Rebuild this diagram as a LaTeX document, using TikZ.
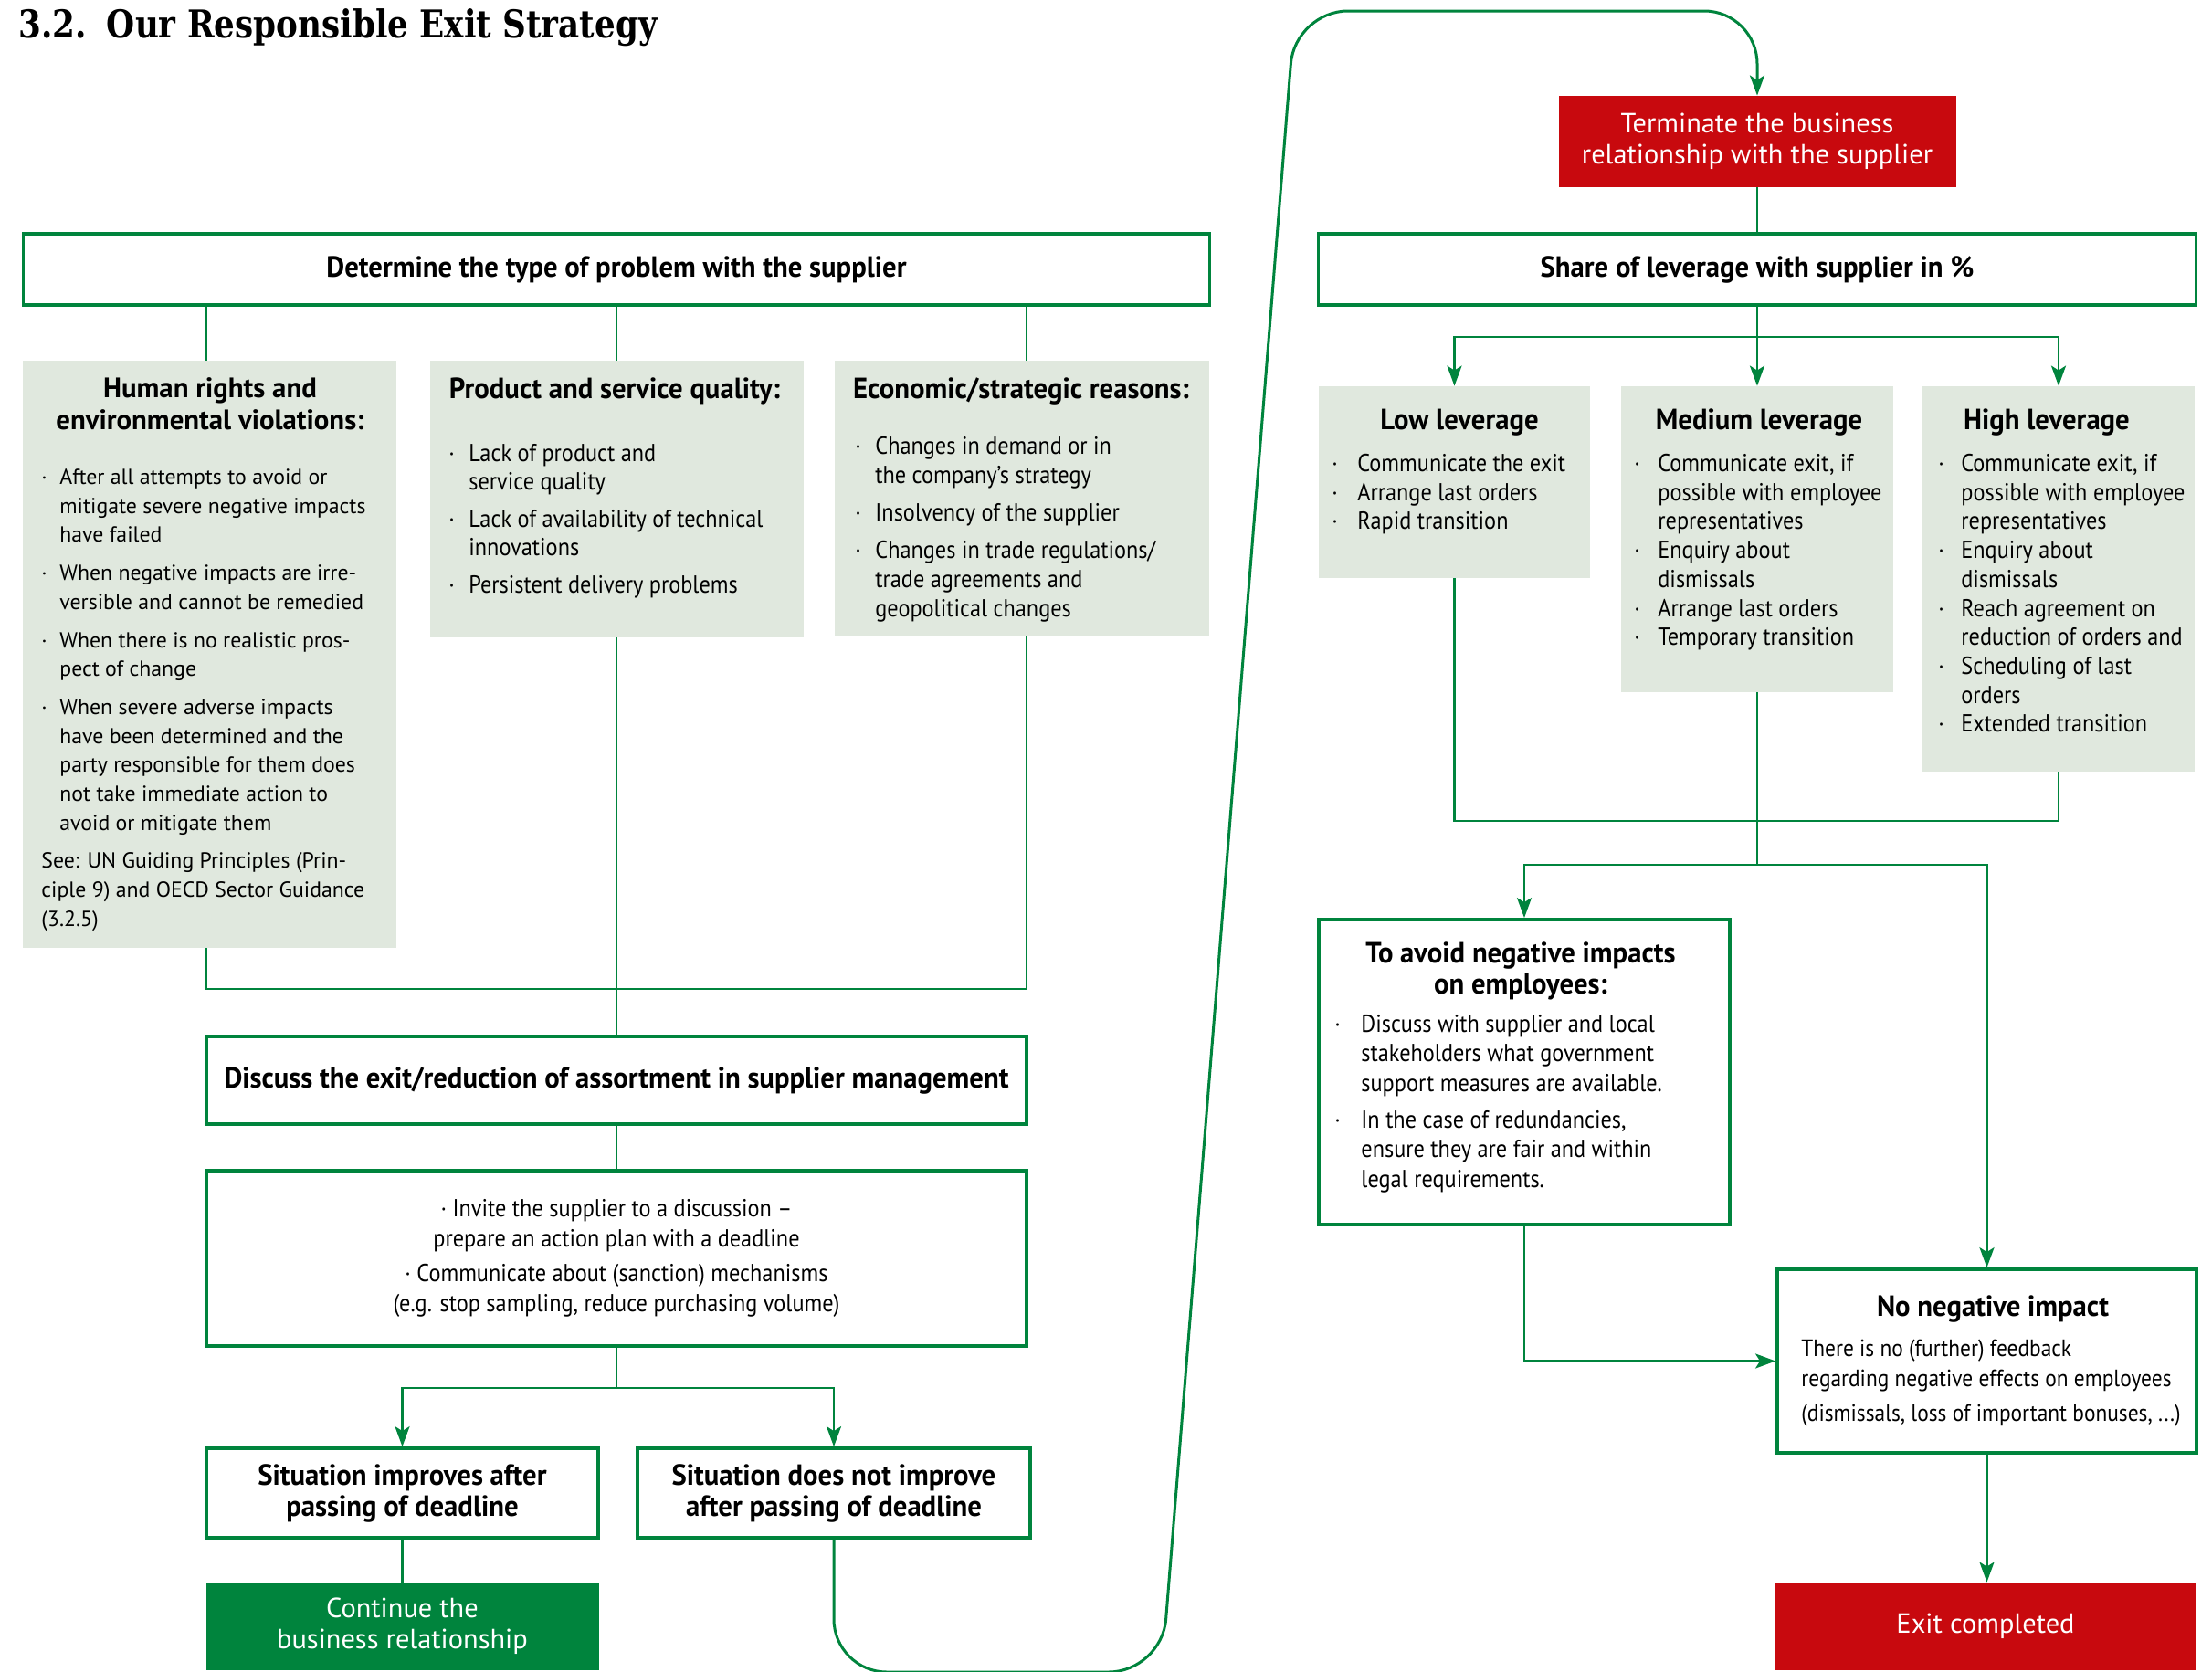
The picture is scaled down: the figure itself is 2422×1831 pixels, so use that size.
\documentclass[tikz,border=0pt]{standalone}
\usepackage{fontspec}
\setmainfont{PT Sans}[FakeStretch=0.9,BoldFeatures={FakeStretch=0.96}]
\newfontfamily\widefont{PT Sans}
\newfontfamily\titlefont{DejaVu Serif}[FakeStretch=0.85]
\usetikzlibrary{arrows.meta,positioning}

\definecolor{exitgreen}{RGB}{0,132,61}
\definecolor{exitgray}{RGB}{224,232,222}
\definecolor{exitred}{RGB}{200,9,14}

\newlength{\bulind}
\newcommand{\bul}{\makebox[\bulind][l]{\textperiodcentered}}
\newcommand{\bodyfont}{\fontsize{13.5}{15.85}\selectfont}
\newcommand{\headfont}{\fontsize{16}{17}\selectfont\bfseries}
\newcommand{\plainfont}{\widefont\fontsize{15.2}{17}\selectfont}

\begin{document}
\begin{tikzpicture}
	[x=0.5pt,y=-0.5pt,
	greenbox/.style={draw=exitgreen,line width=1.9pt,fill=white,inner sep=0pt,
		align=center,font=\headfont},
	graybox/.style={fill=exitgray,inner sep=0pt},
	redbox/.style={fill=exitred,text=white,inner sep=0pt,align=center,font=\plainfont},
	gobox/.style={fill=exitgreen,text=white,inner sep=0pt,align=center,font=\plainfont},
	boxhead/.style={inner sep=0pt,anchor=base,font=\headfont},
	itemlist/.style={inner sep=0pt,anchor=north west,font=\bodyfont},
	conn/.style={draw=exitgreen,line width=1.4pt},
	arr/.style={conn,-{Stealth[length=11pt,width=8pt,inset=2.5pt]}}]
	\useasboundingbox (0,0) rectangle (2422,1831);
	%titulo
	\node[anchor=base west,inner sep=0pt] (title) at (20,41)
		{\titlefont\bfseries\fontsize{21}{23}\selectfont 3.2.\hspace{11pt}Our Responsible Exit Strategy};
	%columna izquierda
	\node[greenbox,minimum width=649.5pt,minimum height=39pt] (problem) at (675,295)
		{Determine the type of problem with the supplier};
	\node[graybox,minimum width=204.5pt,minimum height=321.5pt] (hr) at (229.5,716.5) {};
	\node[graybox,minimum width=204.5pt,minimum height=151.5pt] (quality) at (675,546.5) {};
	\node[graybox,minimum width=205pt,minimum height=151pt] (econ) at (1119,546) {};
	\coordinate (hrpin) at (226,395);
	\coordinate (econpin) at (1124,395);
	\node[inner sep=0pt,anchor=north,font=\widefont\fontsize{15.4}{17.5}\selectfont\bfseries] (hrhead) at (230,411)
		{\begin{tabular}{@{}c@{}}Human rights and\\environmental violations:\end{tabular}};
	\node[itemlist,font=\widefont\fontsize{11.9}{15.85}\selectfont] (hrlist) at (45,508)
		{\setlength{\bulind}{10pt}%
		\begin{tabular}{@{}l@{}l@{}}
		\bul & After all attempts to avoid or\\
		& mitigate severe negative impacts\\
		& have failed\\[5pt]
		\bul & When negative impacts are irre-\\
		& versible and cannot be remedied\\[5pt]
		\bul & When there is no realistic pros-\\
		& pect of change\\[5pt]
		\bul & When severe adverse impacts\\
		& have been determined and the\\
		& party responsible for them does\\
		& not take immediate action to\\
		& avoid or mitigate them\\[5pt]
		\multicolumn{2}{@{}l@{}}{See: UN Guiding Principles (Prin-}\\
		\multicolumn{2}{@{}l@{}}{ciple 9) and OECD Sector Guidance}\\
		\multicolumn{2}{@{}l@{}}{(3.2.5)}
		\end{tabular}};
	\node[boxhead] (qualityhead) at (673,436) {Product and service quality:};
	\node[itemlist,font=\fontsize{13.5}{15.5}\selectfont] (qualitylist) at (491,483)
		{\setlength{\bulind}{11pt}%
		\begin{tabular}{@{}l@{}l@{}}
		\bul & Lack of product and\\
		& service quality\\[5pt]
		\bul & Lack of availability of technical\\
		& innovations\\[5pt]
		\bul & Persistent delivery problems
		\end{tabular}};
	\node[boxhead] (econhead) at (1118,436) {Economic/strategic reasons:};
	\node[itemlist,font=\fontsize{13.5}{16}\selectfont] (econlist) at (936,475)
		{\setlength{\bulind}{11pt}%
		\begin{tabular}{@{}l@{}l@{}}
		\bul & Changes in demand or in\\
		& the company's strategy\\[4.5pt]
		\bul & Insolvency of the supplier\\[4.5pt]
		\bul & Changes in trade regulations/\\
		& trade agreements and\\
		& geopolitical changes
		\end{tabular}};
	\node[greenbox,minimum width=449pt,minimum height=48pt] (discuss) at (675,1183)
		{Discuss the exit/reduction of assortment in supplier management};
	\node[greenbox,minimum width=449pt,minimum height=96pt,font=\fontsize{13.5}{16.5}\selectfont] (action) at (675,1378)
		{\textperiodcentered\ Invite the supplier to a discussion --\\prepare an action plan with a deadline\\[2.5pt]
		\textperiodcentered\ Communicate about (sanction) mechanisms\\(e.g. stop sampling, reduce purchasing volume)};
	\node[greenbox,minimum width=214.5pt,minimum height=49pt] (improves) at (440.5,1635)
		{Situation improves after\\passing of deadline};
	\node[greenbox,minimum width=215pt,minimum height=49pt] (notimproves) at (913,1635)
		{Situation does not improve\\after passing of deadline};
	\node[gobox,minimum width=215pt,minimum height=48pt] (continue) at (440.5,1781)
		{Continue the\\business relationship};
	%columna derecha
	\node[redbox,minimum width=217.5pt,minimum height=50pt] (terminate) at (1924,155)
		{Terminate the business\\relationship with the supplier};
	\node[greenbox,minimum width=480.5pt,minimum height=39pt] (share) at (1924,295)
		{Share of leverage with supplier in \%};
	\node[graybox,minimum width=148.5pt,minimum height=105pt] (low) at (1592.5,528) {};
	\node[graybox,minimum width=149pt,minimum height=167.5pt] (medium) at (1924,590.5) {};
	\node[graybox,minimum width=149pt,minimum height=211pt] (high) at (2254,634) {};
	\node[boxhead] (lowhead) at (1598,470) {Low leverage};
	\node[itemlist] (lowlist) at (1458,494)
		{\setlength{\bulind}{14pt}%
		\begin{tabular}{@{}l@{}l@{}}
		\bul & Communicate the exit\\
		\bul & Arrange last orders\\
		\bul & Rapid transition
		\end{tabular}};
	\node[boxhead] (mediumhead) at (1926,470) {Medium leverage};
	\node[itemlist] (mediumlist) at (1789,494)
		{\setlength{\bulind}{13pt}%
		\begin{tabular}{@{}l@{}l@{}}
		\bul & Communicate exit, if\\
		& possible with employee\\
		& representatives\\
		\bul & Enquiry about\\
		& dismissals\\
		\bul & Arrange last orders\\
		\bul & Temporary transition
		\end{tabular}};
	\node[boxhead] (highhead) at (2241,470) {High leverage};
	\node[itemlist] (highlist) at (2122,494)
		{\setlength{\bulind}{12.5pt}%
		\begin{tabular}{@{}l@{}l@{}}
		\bul & Communicate exit, if\\
		& possible with employee\\
		& representatives\\
		\bul & Enquiry about\\
		& dismissals\\
		\bul & Reach agreement on\\
		& reduction of orders and\\
		\bul & Scheduling of last\\
		& orders\\
		\bul & Extended transition
		\end{tabular}};
	\node[greenbox,minimum width=225pt,minimum height=167pt] (avoid) at (1669,1174) {};
	\node[boxhead,anchor=north] (avoidhead) at (1665,1030)
		{\begin{tabular}{@{}c@{}}To avoid negative impacts\\on employees:\end{tabular}};
	\node[itemlist,font=\fontsize{13.5}{16.25}\selectfont] (avoidlist) at (1461,1107)
		{\setlength{\bulind}{14.5pt}%
		\begin{tabular}{@{}l@{}l@{}}
		\bul & Discuss with supplier and local\\
		& stakeholders what government\\
		& support measures are available.\\[3.75pt]
		\bul & In the case of redundancies,\\
		& ensure they are fair and within\\
		& legal requirements.
		\end{tabular}};
	\node[greenbox,minimum width=229.5pt,minimum height=100.5pt] (nonegative) at (2175.5,1490.5) {};
	\node[boxhead] (nonegativehead) at (2182,1441) {No negative impact};
	\node[itemlist,font=\fontsize{13}{16.5}\selectfont] (nonegativelist) at (1972,1462)
		{\begin{tabular}{@{}l@{}}
		There is no (further) feedback\\
		regarding negative effects on employees\\[2.5pt]
		(dismissals, loss of important bonuses, ...)
		\end{tabular}};
	\node[redbox,minimum width=231pt,minimum height=48pt] (exitdone) at (2174,1781) {Exit completed};
	%conectores izquierda
	\coordinate (joinA) at (675,1083);
	\coordinate (splitA) at (675,1520);
	\draw[conn] (problem.south -| hrpin) -- (hrpin);
	\draw[conn] (problem.south) -- (quality.north);
	\draw[conn] (problem.south -| econpin) -- (econpin);
	\draw[conn] (hrpin |- hr.south) |- (joinA) -| (econpin |- econ.south);
	\draw[conn] (quality.south) -- (discuss.north);
	\draw[conn] (discuss.south) -- (action.north);
	\draw[conn] (action.south) -- (splitA);
	\draw[arr] (splitA) -| (improves.north);
	\draw[arr] (splitA) -| (notimproves.north);
	\draw[conn] (improves.south) -- (continue.north);
	%curva hacia la derecha
	\coordinate (bendA) at (913,1831);
	\coordinate (bendB) at (1272,1831);
	\coordinate (bendC) at (1418,12);
	\coordinate (bendD) at (1924,12);
	\draw[arr,line width=1.5pt,rounded corners=29pt] (notimproves.south) -- (bendA) -- (bendB)
		-- (bendC) -- (bendD) -- (terminate.north);
	%conectores derecha
	\coordinate (splitB) at (1924,369);
	\coordinate (joinB) at (1924,899);
	\coordinate (splitC) at (1924,947);
	\draw[conn] (terminate.south) -- (share.north);
	\draw[conn] (share.south) -- (splitB);
	\draw[arr] (splitB) -| (low.north);
	\draw[arr] (splitB) -- (medium.north);
	\draw[arr] (splitB) -| (high.north);
	\draw[conn] (low.south) |- (joinB) -| (high.south);
	\draw[conn] (medium.south) -- (splitC);
	\draw[arr] (splitC) -| (avoid.north);
	\draw[arr] (splitC) -| (nonegative.north);
	\draw[arr] (avoid.south) |- (nonegative.west);
	\draw[arr] (nonegative.south) -- (nonegative.south |- exitdone.north);
\end{tikzpicture}
\end{document}
